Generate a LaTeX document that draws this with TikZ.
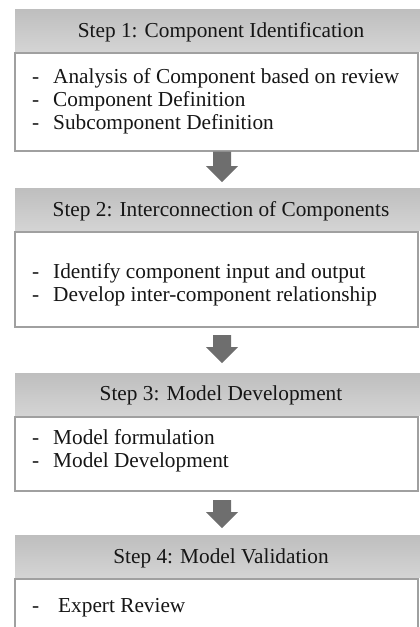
\documentclass[tikz,border=0pt]{standalone}
\usepackage{fontspec}
\setmainfont{Liberation Serif}
\usetikzlibrary{calc}
\definecolor{hdrtop}{HTML}{BEBEBE}
\definecolor{hdrbot}{HTML}{D4D4D4}
\definecolor{boxline}{HTML}{A0A0A0}
\definecolor{txt}{HTML}{161616}
\definecolor{arrowcol}{HTML}{6E6E6E}
\newcommand\myblockarrow[2]{%
  \fill[arrowcol] ($(#1)+(-9,0)$) -- ($(#1)+(9,0)$) -- ($(#2)+(9,-16)$) --
    ($(#2)+(16,-16)$) -- (#2) -- ($(#2)+(-16,-16)$) -- ($(#2)+(-9,-16)$) -- cycle;}
\begin{document}
\begin{tikzpicture}[x=1pt,y=-1pt,
  hdr/.style={top color=hdrtop, bottom color=hdrbot, draw=none, anchor=north west,
    minimum width=412pt, minimum height=42pt, inner sep=0pt, outer sep=0pt},
  bodybox/.style={draw=boxline, line width=1.1pt, fill=white, anchor=north west,
    minimum width=403pt, inner sep=0pt, outer sep=0pt},
  ttl/.style={anchor=base, text=txt, font=\fontsize{21.3}{24}\selectfont, inner sep=0pt},
  item/.style={anchor=base west, text=txt, font=\fontsize{21.3}{24}\selectfont, inner sep=0pt},
]
\useasboundingbox (0,0) rectangle (420,627);
% headers
\node[hdr] (h1) at (15,9) {};
\node[hdr] (h2) at (15,188) {};
\node[hdr] (h3) at (15,373) {};
\node[hdr] (h4) at (15,535) {};
\node[ttl] (t1) at (221,37) {Step 1: Component Identification};
\node[ttl] (t2) at (221,216) {Step 2: Interconnection of Components};
\node[ttl] (t3) at (221,400) {Step 3: Model Development};
\node[ttl] (t4) at (221,563) {Step 4: Model Validation};
% bodies
\node[bodybox, minimum height=98pt] (b1) at (15,53) {};
\node[bodybox, minimum height=95pt] (b2) at (15,232) {};
\node[bodybox, minimum height=74pt] (b3) at (15,417) {};
\node[bodybox, minimum height=70pt] (b4) at (15,579) {};
\node[item] (l11) at (32,83) {\makebox[21pt][l]{-}Analysis of Component based on review};
\node[item] (l12) at (32,106) {\makebox[21pt][l]{-}Component Definition};
\node[item] (l13) at (32,129) {\makebox[21pt][l]{-}Subcomponent Definition};
\node[item] (l21) at (32,278) {\makebox[21pt][l]{-}Identify component input and output};
\node[item] (l22) at (32,301) {\makebox[21pt][l]{-}Develop inter-component relationship};
\node[item] (l31) at (32,444) {\makebox[21pt][l]{-}Model formulation};
\node[item] (l32) at (32,467) {\makebox[21pt][l]{-}Model Development};
\node[item] (l41) at (32,612) {\makebox[26pt][l]{-}Expert Review};
% arrows
\coordinate (a1s) at (222,151.6);
\coordinate (a1e) at (222,182);
\coordinate (a2s) at (222,335);
\coordinate (a2e) at (222,363);
\coordinate (a3s) at (222,500);
\coordinate (a3e) at (222,528);
\myblockarrow{a1s}{a1e}
\myblockarrow{a2s}{a2e}
\myblockarrow{a3s}{a3e}
\end{tikzpicture}
\end{document}
